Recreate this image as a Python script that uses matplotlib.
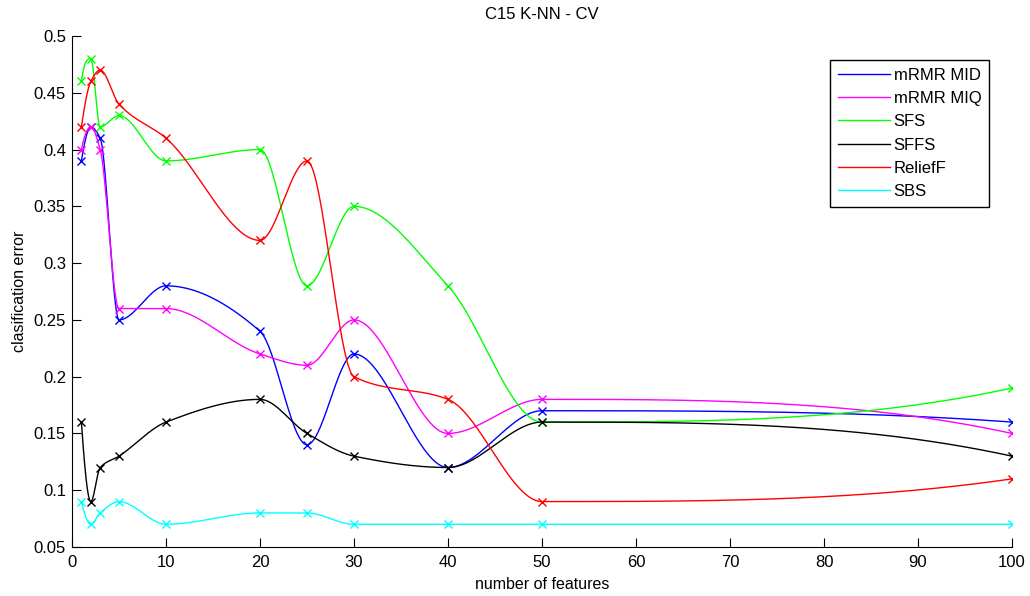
import numpy as np
import matplotlib.pyplot as plt

# number of features evaluated
n_features = [1, 2, 3, 5, 10, 20, 25, 30, 40, 50, 100]

mrmr_mid = [0.39, 0.42, 0.41, 0.25, 0.28, 0.24, 0.14, 0.22, 0.12, 0.17, 0.16]
mrmr_miq = [0.40, 0.42, 0.40, 0.26, 0.26, 0.22, 0.21, 0.25, 0.15, 0.18, 0.15]
sfs = [0.46, 0.48, 0.42, 0.43, 0.39, 0.40, 0.28, 0.35, 0.28, 0.16, 0.19]
sffs = [0.16, 0.09, 0.12, 0.13, 0.16, 0.18, 0.15, 0.13, 0.12, 0.16, 0.13]
relieff = [0.42, 0.46, 0.47, 0.44, 0.41, 0.32, 0.39, 0.20, 0.18, 0.09, 0.11]
sbs = [0.09, 0.07, 0.08, 0.09, 0.07, 0.08, 0.08, 0.07, 0.07, 0.07, 0.07]

labels = ['mRMR MID', 'mRMR MIQ', 'SFS', 'SFFS', 'ReliefF', 'SBS']
colors = ['#0000ff', '#ff00ff', '#00ff00', '#000000', '#ff0000', '#00ffff']


def pchip(x, y, xq):
    """Shape preserving piecewise cubic, like matlab's pchip."""
    x = np.asarray(x, float)
    y = np.asarray(y, float)
    h = np.diff(x)
    delta = np.diff(y) / h
    n = len(x)
    d = np.zeros(n)
    for k in range(1, n - 1):
        if delta[k - 1] * delta[k] > 0:
            w1 = 2 * h[k] + h[k - 1]
            w2 = h[k] + 2 * h[k - 1]
            d[k] = (w1 + w2) / (w1 / delta[k - 1] + w2 / delta[k])

    # end points
    def end_slope(h0, h1, d0, d1):
        s = ((2 * h0 + h1) * d0 - h0 * d1) / (h0 + h1)
        if np.sign(s) != np.sign(d0):
            s = 0.0
        elif np.sign(d0) != np.sign(d1) and abs(s) > abs(3 * d0):
            s = 3 * d0
        return s
    d[0] = end_slope(h[0], h[1], delta[0], delta[1])
    d[-1] = end_slope(h[-1], h[-2], delta[-1], delta[-2])

    xq = np.asarray(xq, float)
    idx = np.clip(np.searchsorted(x, xq) - 1, 0, n - 2)
    t = (xq - x[idx]) / h[idx]
    h00 = 2 * t**3 - 3 * t**2 + 1
    h10 = t**3 - 2 * t**2 + t
    h01 = -2 * t**3 + 3 * t**2
    h11 = t**3 - t**2
    return (h00 * y[idx] + h10 * h[idx] * d[idx]
            + h01 * y[idx + 1] + h11 * h[idx] * d[idx + 1])


plt.rcParams['font.family'] = ['Liberation Sans', 'DejaVu Sans']

W, H = 1030, 596
fig = plt.figure(figsize=(W / 100, H / 100), dpi=100)
ax = fig.add_axes([72 / W, 1 - 547 / H, (1012 - 72) / W, (547 - 36) / H])

xs = np.linspace(1, 100, 2000)
series = [mrmr_mid, mrmr_miq, sfs, sffs, relieff, sbs]
for vals, lab, col in zip(series, labels, colors):
    ax.plot(xs, pchip(n_features, vals, xs), color=col, linewidth=1, label=lab)
    ax.plot(n_features, vals, 'x', color=col, markersize=5.5, markeredgewidth=1)

ax.set_xlim(0, 100)
ax.set_ylim(0.05, 0.5)
ax.set_xticks(np.arange(0, 101, 10))
ax.set_yticks(np.arange(0.05, 0.501, 0.05))
ax.set_yticklabels(['0.05', '0.1', '0.15', '0.2', '0.25', '0.3', '0.35', '0.4', '0.45', '0.5'])
ax.tick_params(direction='in', length=6.5, labelsize=12)
ax.tick_params(axis='x', pad=6)
ax.tick_params(axis='y', pad=4.3)
ax.spines['top'].set_visible(False)
ax.spines['right'].set_visible(False)

ax.set_title('C15 K-NN - CV', fontsize=12, pad=12)
ax.set_xlabel('number of features', fontsize=11.5, labelpad=4.5)
ax.set_ylabel('clasification error', fontsize=11.5, labelpad=5)

leg = ax.legend(loc='upper right', bbox_to_anchor=(989 / W, 1 - 60 / H),
                bbox_transform=fig.transFigure, fontsize=12, fancybox=False,
                framealpha=1, edgecolor='black', handlelength=3.1,
                handletextpad=0.25, borderpad=0.45, borderaxespad=0,
                labelspacing=0.5)
leg.get_frame().set_linewidth(1)

fig.savefig('out.png', dpi=100)
